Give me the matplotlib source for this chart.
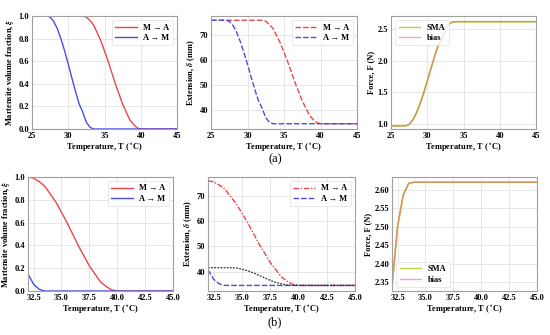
import numpy as np
import matplotlib
matplotlib.use('Agg')
import matplotlib.pyplot as plt
from matplotlib.lines import Line2D

plt.rcParams['font.family'] = ['Liberation Serif', 'DejaVu Serif']
plt.rcParams['font.weight'] = 'bold'
plt.rcParams['mathtext.fontset'] = 'stix'

# temperature grid (deg C), 0.5 step
T = np.arange(25, 45.01, 0.5)

# martensite volume fraction
xi_MA = [1.0] * 15 + [0.99, 0.96, 0.92, 0.85, 0.78, 0.69, 0.60, 0.50, 0.40, 0.31,
                      0.22, 0.15, 0.08, 0.04, 0.01, 0.0] + [0.0] * 10
xi_AM = [1.0] * 5 + [0.99, 0.952, 0.886, 0.797, 0.691, 0.573, 0.451, 0.332, 0.222,
                     0.15, 0.059, 0.015, 0.0] + [0.0] * 23

# extension (mm)
d_MA = [75.9] * 15 + [75.5, 74.2, 72.6, 69.7, 66.8, 63.1, 59.4, 55.3, 51.1, 47.4,
                      43.7, 40.8, 37.9, 36.3, 35.0, 34.6] + [34.6] * 10
d_AM = [75.9] * 5 + [75.5, 73.9, 71.2, 67.5, 63.1, 58.3, 53.2, 48.3, 43.8,
                     40.8, 37.0, 35.2, 34.6] + [34.6] * 23
# extra dotted curve in (b), from 32 C on
d_dot = [41.6, 41.6, 41.6, 41.6, 41.6, 41.5, 41.0, 40.4, 39.6, 38.6, 37.6, 36.6,
         35.8, 35.2, 34.75, 34.6] + [34.6] * 11

# force (N)
F = [0.97] * 5 + [0.993, 1.062, 1.171, 1.317, 1.488, 1.678, 1.873, 2.065, 2.241,
                  2.34, 2.50, 2.585, 2.617] + [2.62] * 23

red = '#e6474c'
blue = '#4a4de0'
txt = dict(fontsize=6, fontweight='bold')

fig = plt.figure(figsize=(5.5, 3.35), dpi=100)
W, H = 550, 335


def make_ax(l, r, t, b):
    ax = fig.add_axes([l / W, 1 - b / H, (r - l) / W, (b - t) / H])
    ax.grid(True, color='#e3e3e3', lw=0.6)
    ax.set_axisbelow(True)
    for s in ax.spines.values():
        s.set_color('#a0a0a0')
        s.set_linewidth(0.8)
    ax.tick_params(length=0, labelsize=6, pad=2)
    return ax


def bold_ticks(ax):
    for lb in ax.get_xticklabels() + ax.get_yticklabels():
        lb.set_fontweight('bold')


def leg(ax, loc, handles=None):
    kw = dict(loc=loc, frameon=True, handlelength=2.6,
              borderpad=0.4, labelspacing=0.3, prop={'weight': 'bold', 'size': 6})
    if handles is not None:
        lg = ax.legend(handles=handles, **kw)
    else:
        lg = ax.legend(**kw)
    lg.get_frame().set_edgecolor('#dddddd')
    lg.get_frame().set_linewidth(0.6)


xlab = r'Temperature, T ($^\circ$C)'
top = (16, 129)
bot = (177, 291)
Tb = T[14:]

# ---- (a) ----
ax = make_ax(32, 177, *top)
ax.plot(T, xi_MA, color=red, lw=1, label='M → A')
ax.plot(T, xi_AM, color=blue, lw=1, label='A → M')
ax.set_xlim(25, 45)
ax.set_ylim(0, 1)
ax.set_xticks([25, 30, 35, 40, 45])
ax.set_yticks(np.arange(0, 1.01, 0.2))
ax.set_xlabel(xlab, labelpad=1, **txt)
ax.set_ylabel(r'Martensite volume fraction, $\xi$', labelpad=2, **txt)
leg(ax, 'upper right')
bold_ticks(ax)

ax = make_ax(211, 357, *top)
ax.plot(T, d_MA, color=red, lw=1, ls=(0, (4, 1.5)), label='M → A')
ax.plot(T, d_AM, color=blue, lw=1, ls=(0, (4, 1.5)), label='A → M')
ax.set_xlim(25, 45)
ax.set_ylim(32.5, 77.6)
ax.set_xticks([25, 30, 35, 40, 45])
ax.set_yticks([40, 50, 60, 70])
ax.set_xlabel(xlab, labelpad=1, **txt)
ax.set_ylabel(r'Extension, $\delta$ (mm)', labelpad=2, **txt)
leg(ax, 'upper right')
bold_ticks(ax)

sma_c = '#bcd44a'
bias_c = '#e8a6dc'
ax = make_ax(391, 536, *top)
ax.plot(T, F, color=sma_c, lw=1.2)
ax.plot(T, F, color='#dc9060', lw=1.0)
ax.set_xlim(25, 45)
ax.set_ylim(0.92, 2.71)
ax.set_xticks([25, 30, 35, 40, 45])
ax.set_yticks([1.0, 1.5, 2.0, 2.5])
ax.set_yticklabels(['1.0', '1.5', '2.0', '2.5'])
ax.set_xlabel(xlab, labelpad=1, **txt)
ax.set_ylabel('Force, F (N)', labelpad=2, **txt)
hs = [Line2D([], [], color=sma_c, lw=1, label='SMA'),
      Line2D([], [], color=bias_c, lw=1, label='bias')]
leg(ax, 'upper left', hs)
bold_ticks(ax)

# ---- (b) ----
bx = [32.5, 35.0, 37.5, 40.0, 42.5, 45.0]
ax = make_ax(28, 173, *bot)
ax.plot(Tb, xi_MA[14:], color=red, lw=1, label='M → A')
ax.plot(Tb, xi_AM[14:], color=blue, lw=1, label='A → M')
ax.set_xlim(32, 45)
ax.set_ylim(0, 1)
ax.set_xticks(bx)
ax.set_xticklabels(['%.1f' % v for v in bx])
ax.set_yticks(np.arange(0, 1.01, 0.2))
ax.set_xlabel(xlab, labelpad=1, **txt)
ax.set_ylabel(r'Martensite volume fraction, $\xi$', labelpad=2, **txt)
leg(ax, 'upper right')
bold_ticks(ax)

ax = make_ax(208, 355, *bot)
ax.plot(Tb, d_MA[14:], color=red, lw=1, ls=(0, (4, 1.2, 1, 1.2)), label='M → A')
ax.plot(Tb, d_AM[14:], color=blue, lw=1, ls=(0, (4, 1.5)), label='A → M')
ax.plot(Tb, d_dot, color='#333333', lw=0.9, ls=(0, (1.5, 1)))
ax.set_xlim(32, 45)
ax.set_ylim(32.4, 77.4)
ax.set_xticks(bx)
ax.set_xticklabels(['%.1f' % v for v in bx])
ax.set_yticks([40, 50, 60, 70])
ax.set_xlabel(xlab, labelpad=1, **txt)
ax.set_ylabel(r'Extension, $\delta$ (mm)', labelpad=2, **txt)
leg(ax, 'upper right')
bold_ticks(ax)

ax = make_ax(392, 537, *bot)
ax.plot(Tb, F[14:], color=sma_c, lw=1.2)
ax.plot(Tb, F[14:], color='#dc9060', lw=1.0)
ax.set_xlim(32, 45)
ax.set_ylim(2.327, 2.634)
ax.set_xticks(bx)
ax.set_xticklabels(['%.1f' % v for v in bx])
ax.set_yticks([2.35, 2.40, 2.45, 2.50, 2.55, 2.60])
ax.set_yticklabels(['%.2f' % v for v in [2.35, 2.40, 2.45, 2.50, 2.55, 2.60]])
ax.set_xlabel(xlab, labelpad=1, **txt)
ax.set_ylabel('Force, F (N)', labelpad=2, **txt)
hs = [Line2D([], [], color=sma_c, lw=1, label='SMA'),
      Line2D([], [], color=bias_c, lw=1, label='bias')]
leg(ax, 'lower left', hs)
bold_ticks(ax)

fig.text(275 / W, 1 - 159 / H, '(a)', ha='center', va='center', fontsize=9, fontweight='normal')
fig.text(275 / W, 1 - 322 / H, '(b)', ha='center', va='center', fontsize=9, fontweight='normal')

fig.savefig('out.png', dpi=100)
